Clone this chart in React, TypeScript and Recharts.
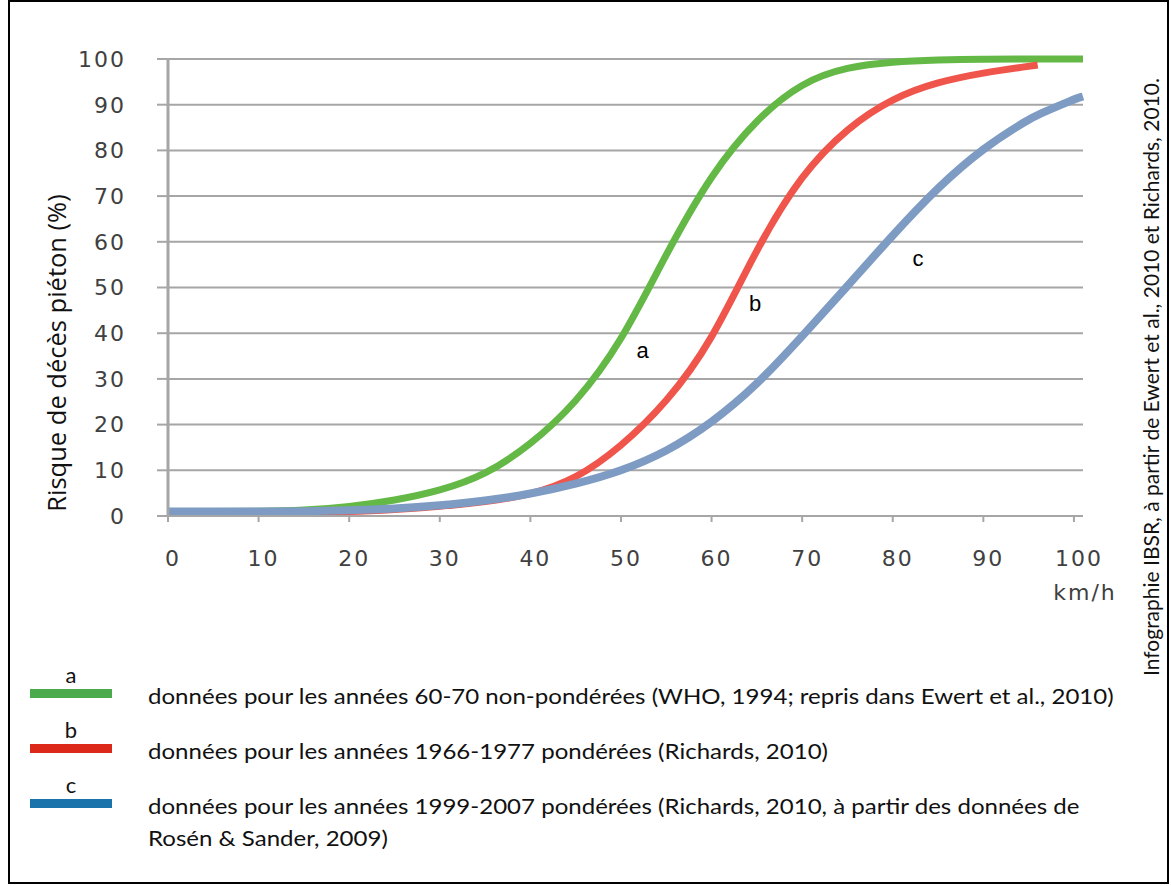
import React from "react";
import { LineChart, Line, XAxis, YAxis, CartesianGrid, ReferenceDot } from "recharts";

// speed in km/h, risk of pedestrian death in %
const speeds = [0, 5, 10, 15, 20, 25, 30, 35, 40, 45, 50, 55, 60, 65, 70, 75, 80, 85, 90, 95, 96, 100, 101];
const riskA = [1, 1, 1, 1.2, 2, 3.4, 5.5, 8.9, 15.5, 24.6, 37.8, 57.5, 75, 87, 95, 98.3, 99.4, 99.8, 100, 100, 100, 100, 100];
const riskB = [1, 0.9, 0.8, 0.8, 0.9, 1.4, 2.1, 3.1, 4.6, 8, 15.1, 24.7, 38, 58.8, 75, 85, 91.5, 95, 97, 98.4, 98.7, null, null];
const riskC = [1, 1, 1, 1, 1.2, 1.6, 2.3, 3.3, 4.8, 7, 9.8, 14, 20.3, 28.6, 39.3, 50.3, 61.5, 72, 80.6, 86.8, 87.8, 91.2, 91.8];

const xTicks = [0, 10, 20, 30, 40, 50, 60, 70, 80, 90, 100];
const yTicks = [0, 10, 20, 30, 40, 50, 60, 70, 80, 90, 100];

// curve tags, in data coordinates
const curveTags = [
  { key: "a", speed: 52.4, risk: 36.3 },
  { key: "b", speed: 64.8, risk: 46.6 },
  { key: "c", speed: 82.8, risk: 56.5 },
];

const legendRows = [
  { key: "a", color: "#4baa4b", text: ["données pour les années 60-70 non-pondérées (WHO, 1994; repris dans Ewert et al., 2010)"] },
  { key: "b", color: "#dc2819", text: ["données pour les années 1966-1977 pondérées (Richards, 2010)"] },
  {
    key: "c",
    color: "#1a73aa",
    text: ["données pour les années 1999-2007 pondérées (Richards, 2010, à partir des données de", "Rosén & Sander, 2009)"],
  },
];

const rows = speeds.map((s, i) => ({ speed: s, a: riskA[i], b: riskB[i], c: riskC[i] }));

const GRID = "#a6a6a6";
const axisFont = "'DejaVu Sans', Verdana, sans-serif";
const tickFont = { fontFamily: axisFont, fontSize: 22, fill: "#404040", letterSpacing: 2 };
const noteFont = "Lato, sans-serif";

export default function App() {
  return (
    <div style={{ position: "absolute", left: 0, top: 0, width: 1171, height: 886, overflow: "hidden", background: "#fff" }}>
      <div
        style={{
          position: "absolute",
          left: 8,
          top: 0,
          width: 1161,
          height: 884,
          border: "2px solid #000",
          boxSizing: "border-box",
        }}
      />

      <div style={{ position: "absolute", left: 0, top: 0 }}>
        <LineChart width={1110} height={602} data={rows} margin={{ top: 59, right: 27, bottom: 26, left: 0 }}>
          <CartesianGrid vertical={false} stroke={GRID} strokeWidth={2} />
          <XAxis
            dataKey="speed"
            type="number"
            domain={[0, 101]}
            ticks={xTicks}
            interval={0}
            height={60}
            axisLine={{ stroke: GRID, strokeWidth: 2 }}
            tickLine={{ stroke: GRID, strokeWidth: 2 }}
            tickSize={6}
            tickMargin={28}
            tick={{ ...tickFont, dx: 5 }}
          />
          <YAxis
            type="number"
            domain={[0, 100]}
            ticks={yTicks}
            interval={0}
            width={168}
            axisLine={{ stroke: GRID, strokeWidth: 3 }}
            tickLine={{ stroke: GRID, strokeWidth: 2 }}
            tickSize={11}
            tickMargin={31}
            tick={tickFont}
          />
          <Line dataKey="a" type="basis" stroke="#64b946" strokeWidth={7} dot={false} isAnimationActive={false} />
          <Line dataKey="b" type="basis" stroke="#f0554b" strokeWidth={7} dot={false} isAnimationActive={false} />
          <Line dataKey="c" type="basis" stroke="#7d9bc3" strokeWidth={8} dot={false} isAnimationActive={false} />
          {curveTags.map((t) => (
            <ReferenceDot
              key={t.key}
              x={t.speed}
              y={t.risk}
              r={0}
              stroke="none"
              fill="none"
              label={{ value: t.key, position: "center", fill: "#000", fontSize: 22, fontFamily: "'Liberation Sans', Arial, sans-serif" }}
            />
          ))}
        </LineChart>
      </div>

      <div
        style={{
          position: "absolute",
          left: 1085,
          top: 592,
          transform: "translate(-50%, -50%)",
          fontFamily: axisFont,
          fontSize: 22,
          letterSpacing: 2,
          color: "#404040",
          whiteSpace: "nowrap",
        }}
      >
        km/h
      </div>

      <div
        style={{
          position: "absolute",
          left: 56,
          top: 353,
          transform: "translate(-50%, -50%) rotate(-90deg)",
          fontFamily: "'Open Sans', sans-serif",
          fontSize: 25.5,
          color: "#111",
          whiteSpace: "nowrap",
        }}
      >
        Risque de décès piéton (%)
      </div>

      <div
        style={{
          position: "absolute",
          left: 1150,
          top: 377,
          transform: "translate(-50%, -50%) rotate(-90deg)",
          fontFamily: noteFont,
          fontSize: 21,
          color: "#111",
          whiteSpace: "nowrap",
        }}
      >
        Infographie IBSR, à partir de Ewert et al., 2010 et Richards, 2010.
      </div>

      {legendRows.map((r, i) => {
        const top = 662 + i * 55;
        return (
          <div key={r.key} style={{ position: "absolute", left: 0, top, width: 1171 }}>
            <div
              style={{
                position: "absolute",
                left: 30,
                width: 82,
                top: 0,
                textAlign: "center",
                fontFamily: noteFont,
                fontSize: 22,
                lineHeight: "26px",
                color: "#111",
              }}
            >
              {r.key}
            </div>
            <div style={{ position: "absolute", left: 30, top: 27, width: 82, height: 9, background: r.color }} />
            <div
              style={{
                position: "absolute",
                left: 148,
                top: 18,
                fontFamily: noteFont,
                fontSize: 22,
                lineHeight: "32px",
                color: "#111",
                whiteSpace: "nowrap",
                transform: "scaleX(1.093)",
                transformOrigin: "0 0",
              }}
            >
              {r.text.map((line, j) => (
                <div key={j}>{line}</div>
              ))}
            </div>
          </div>
        );
      })}
    </div>
  );
}
